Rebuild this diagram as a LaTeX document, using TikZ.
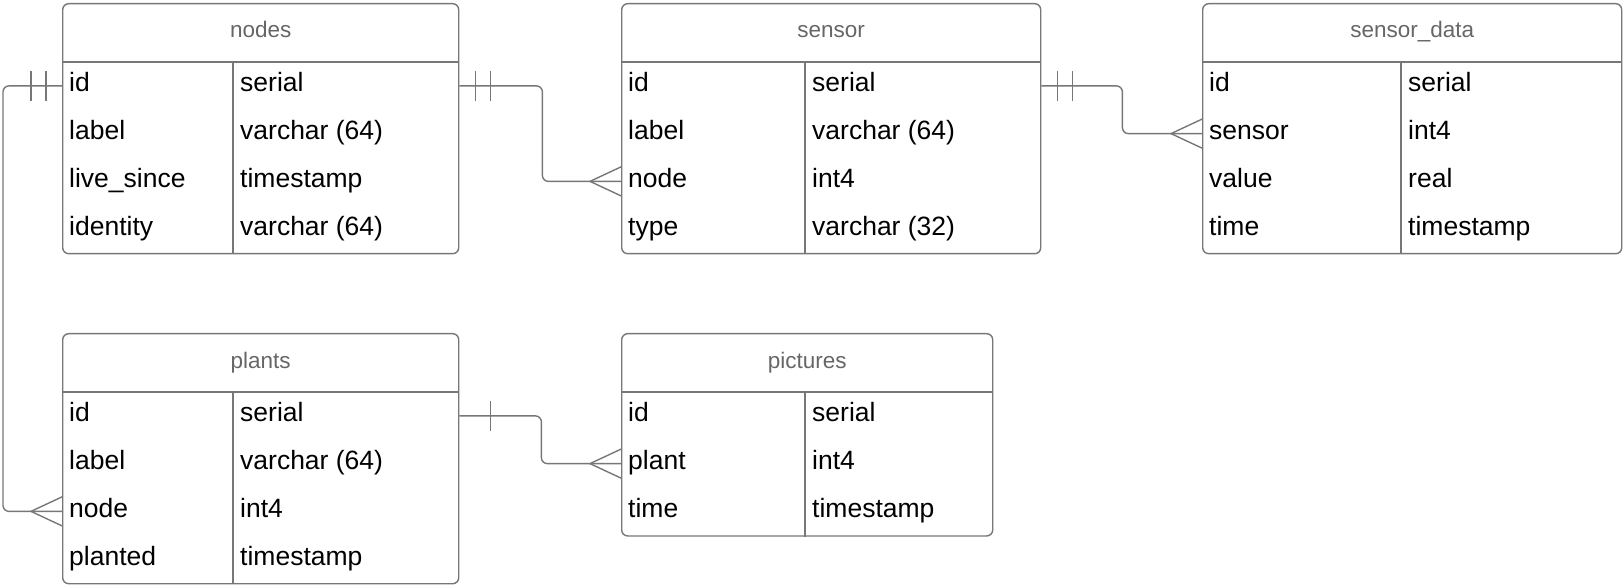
\documentclass[tikz,border=0pt]{standalone}
\usepackage{fontspec}
\setmainfont{Liberation Sans}
\usetikzlibrary{calc, decorations.markings}
\definecolor{linegray}{RGB}{119,119,119}
\definecolor{titlegray}{RGB}{102,102,102}
\tikzset{
    table/.style={draw=linegray, line width=1.4pt, rounded corners=6pt, inner sep=0pt},
    rule/.style={linegray, line width=1.4pt},
    title/.style={anchor=base, text=titlegray, font=\fontsize{22.5pt}{26pt}\selectfont},
    field/.style={anchor=west, inner sep=0pt, text height=12pt, text depth=0pt, font=\fontsize{26.5pt}{30pt}\selectfont},
    relation/.style={linegray, line width=1.4pt, rounded corners=6pt},
    bar/.style={linegray, line width=1.4pt, sharp corners},
    onebar/.style={postaction={decorate, decoration={markings,
        mark=at position 31pt with {\draw[bar] (0,-15pt) -- (0,15pt);}}}},
    twobar/.style={postaction={decorate, decoration={markings,
        mark=at position 16pt with {\draw[bar] (0,-15pt) -- (0,15pt);},
        mark=at position 31pt with {\draw[bar] (0,-15pt) -- (0,15pt);}}}},
    crowfoot/.style={postaction={decorate, decoration={markings,
        mark=at position -31pt with {\draw[bar] (31pt,14.5pt) -- (0,0) -- (31pt,-14.5pt);}}}},
}
\begin{document}
\begin{tikzpicture}[x=1pt, y=-1pt]
    \useasboundingbox (0,0) rectangle (1623,585);
    % tables: name/x/y/width/rows/divider/title
    \foreach \t/\x/\y/\w/\n/\d/\title in {nodes/62/3/396/4/171/nodes, sensor/621/3/419/4/184/sensor,
        sdata/1202/3/419/4/199/sensor\_data, plants/62/333/396/4/171/plants, pictures/621/333/371/3/184/pictures} {
        \node[table, minimum width=\w pt, minimum height={(59+47.75*\n)*1pt}, anchor=north west] (\t) at (\x,\y) {};
        \node[title] (\t-title) at ($(\t.north)+(0,35)$) {\title};
        \coordinate (\t-div) at ($(\t.north west)+(\d,59)$);
        \draw[rule] ($(\t.north west)+(0,59)$) -- ($(\t.north east)+(0,59)$);
        \draw[rule] (\t-div) -- (\t-div |- \t.south);
    };
    \foreach \t/\i/\f/\ty in {nodes/1/id/serial, nodes/2/label/varchar (64), nodes/3/live\_since/timestamp,
        nodes/4/identity/varchar (64), sensor/1/id/serial, sensor/2/label/varchar (64), sensor/3/node/int4,
        sensor/4/type/varchar (32), sdata/1/id/serial, sdata/2/sensor/int4, sdata/3/value/real,
        sdata/4/time/timestamp, plants/1/id/serial, plants/2/label/varchar (64), plants/3/node/int4,
        plants/4/planted/timestamp, pictures/1/id/serial, pictures/2/plant/int4, pictures/3/time/timestamp} {
        \node[field] (\t-\i) at ($(\t.north west)+(7,59+47.75*\i-23.875)$) {\f};
        \node[field] (\t-\i-type) at ($(\t-div)+(7,47.75*\i-23.875)$) {\ty};
    };
    % relations
    \draw[relation, twobar, crowfoot] (nodes.west |- nodes-1) -- ++(-59,0) |- (plants.west |- plants-3);
    \draw[relation, twobar, crowfoot] (nodes.east |- nodes-1) -- ++(83,0) |- (sensor.west |- sensor-3);
    \draw[relation, twobar, crowfoot] (sensor.east |- sensor-1) -- ++(81,0) |- (sdata.west |- sdata-2);
    \draw[relation, onebar, crowfoot] (plants.east |- plants-1) -- ++(82,0) |- (pictures.west |- pictures-2);
\end{tikzpicture}
\end{document}
